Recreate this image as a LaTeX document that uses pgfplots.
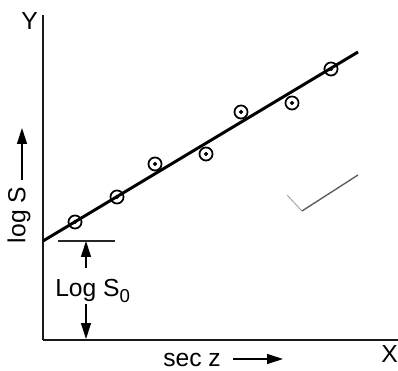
\documentclass[border=0pt]{standalone}
\usepackage{pgfplots}
\pgfplotsset{compat=1.18}
\usepackage{fontspec}
\setmainfont{Liberation Sans}
\usetikzlibrary{arrows.meta}
\begin{document}
\begin{tikzpicture}
\begin{axis}[
  x=0.75pt, y=0.75pt,
  xmin=0, xmax=355, ymin=0, ymax=325,
  axis lines=left,
  axis line style={-, line width=1pt, black!90},
  ticks=none,
  clip=false,
  font=\fontsize{18.5}{20}\selectfont,
]
% fitted line
\addplot[black, line width=2.2pt] coordinates {(0,99) (315,288)};
% observations
\addplot[only marks, mark=o, mark size=4.9pt, mark options={line width=1.3pt, fill=white, draw=black}]
  coordinates {(32,118) (74,143) (112,176) (163,186) (198,228) (249,237) (288,271)};
\addplot[only marks, mark=*, mark size=1.4pt, black]
  coordinates {(32,118) (74,143) (112,176) (163,186) (198,228) (249,237) (288,271)};
% stray pen mark
\addplot[black!45, line width=0.5pt] coordinates {(244,145) (259,129)};
\addplot[black!65, line width=1pt] coordinates {(259,129) (315,165)};
% intercept indicator
\draw[black!85, line width=0.8pt] (axis cs:15,99) -- (axis cs:72,99);
\draw[line width=0.9pt, -{Triangle[length=12pt,width=7.5pt]}] (axis cs:43,72) -- (axis cs:43,99);
\draw[line width=0.9pt, -{Triangle[length=12pt,width=7.5pt]}] (axis cs:43,36) -- (axis cs:43,1);
\node[anchor=base west, inner sep=0pt] at (axis cs:12,43) {Log S\raisebox{-0.45ex}{\fontsize{14}{14}\selectfont 0}};
% axis labels
\node[rotate=90, inner sep=0pt] at (axis cs:-24,125) {log S};
\draw[line width=0.9pt, -{Triangle[length=12pt,width=7.5pt]}] (axis cs:-21,160) -- (axis cs:-21,212);
\node[anchor=base west, inner sep=0pt] at (axis cs:120,-26) {sec z};
\draw[line width=0.9pt, -{Triangle[length=12pt,width=7.5pt]}] (axis cs:190,-19) -- (axis cs:240,-19);
\node[anchor=base west, inner sep=0pt] at (axis cs:338,-22) {X};
\node[anchor=base west, inner sep=0pt] at (axis cs:-22,310) {Y};
\coordinate (bl) at (axis cs:-43,-30);
\coordinate (tr) at (axis cs:355,340);
\end{axis}
\pgfresetboundingbox
\path[use as bounding box] (bl) rectangle (tr);
\end{tikzpicture}
\end{document}
